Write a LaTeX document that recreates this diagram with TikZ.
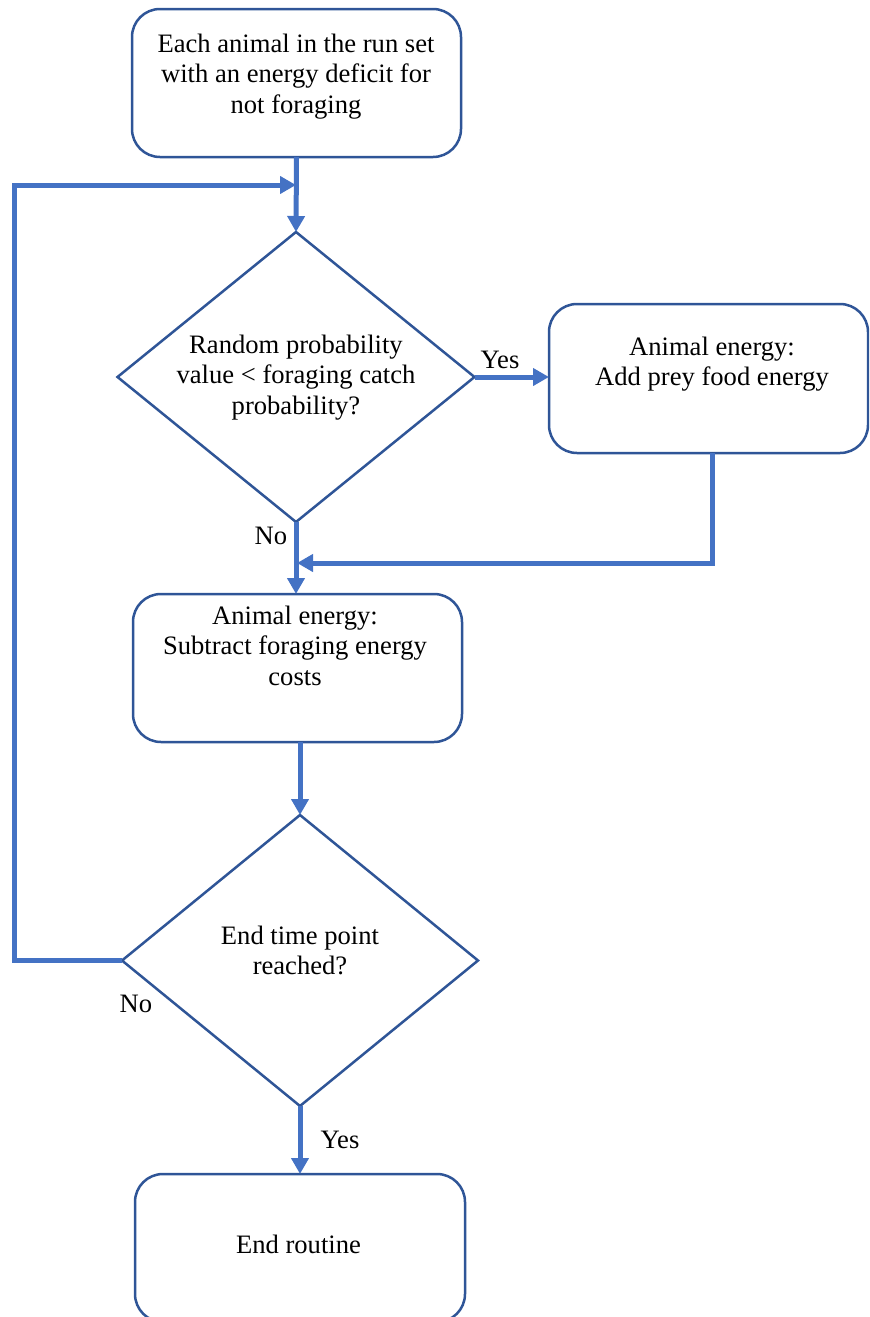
\documentclass[tikz,border=0pt]{standalone}
\usepackage{fontspec}
\setmainfont{Liberation Serif}
\usetikzlibrary{shapes.geometric,arrows.meta}
\definecolor{connblue}{HTML}{4472C4}
\definecolor{edgeblue}{HTML}{2F5597}
\begin{document}
\begin{tikzpicture}[x=0.5pt,y=-0.5pt,
  box/.style={draw=edgeblue,line width=1.25pt,rounded corners=14pt,fill=white,inner sep=0pt,outer sep=0pt},
  dec/.style={draw=edgeblue,line width=1.25pt,diamond,fill=white,inner sep=0pt,outer sep=0pt},
  txt/.style={anchor=base,inner sep=0pt,font=\fontsize{13.3pt}{15.3pt}\selectfont},
  conn/.style={draw=connblue,line width=2.5pt,-{Triangle[length=8pt,width=8.5pt]}}]
\useasboundingbox (0,0) rectangle (869,1317);
\clip (0,0) rectangle (869,1317);
% shapes
\node[box,minimum width=164.5pt,minimum height=74pt] (b1) at (296.5,83) {};
\node[dec,minimum width=178.5pt,minimum height=145pt] (d1) at (296,377) {};
\node[box,minimum width=159.5pt,minimum height=74.5pt] (b2) at (708.5,378.5) {};
\node[box,minimum width=164.5pt,minimum height=74pt] (b3) at (297.5,668) {};
\node[dec,minimum width=178pt,minimum height=145.5pt] (d2) at (300,960.5) {};
\node[box,minimum width=165pt,minimum height=74pt] (b4) at (300,1248) {};
% texts
\node[txt] (t1) at (296,52) {\begin{tabular}[t]{@{}c@{}}Each animal in the run set\\with an energy deficit for\\not foraging\end{tabular}};
\node[txt] (t2) at (296,353) {\begin{tabular}[t]{@{}c@{}}Random probability\\value < foraging catch\\probability?\end{tabular}};
\node[txt] (t3) at (712,355) {\begin{tabular}[t]{@{}c@{}}Animal energy:\\Add prey food energy\end{tabular}};
\node[txt] (t4) at (295,624) {\begin{tabular}[t]{@{}c@{}}Animal energy:\\Subtract foraging energy\\costs\end{tabular}};
\node[txt] (t5) at (300,944) {\begin{tabular}[t]{@{}c@{}}End time point\\reached?\end{tabular}};
\node[txt] (t6) at (298.5,1253) {End routine};
% labels
\node[txt] (yes1) at (500,368) {Yes};
\node[txt] (no1) at (271,544) {No};
\node[txt] (no2) at (136,1012) {No};
\node[txt] (yes2) at (340,1148) {Yes};
% junction coordinates
\coordinate (j1) at (296,185);
\coordinate (lp) at (14,185);
\coordinate (j2) at (297,563);
% connectors
\draw[conn] (b1.south) -- (d1.north);
\draw[conn] (d1.east) -- (d1.east -| b2.west);
\draw[conn] ([xshift=1.75pt]b2.south) |- (j2);
\draw[conn] (d1.south) -- (d1.south |- b3.north);
\draw[conn] (b3.south -| d2.north) -- (d2.north);
\draw[conn] (d2.south) -- (b4.north);
\draw[conn] (d2.west) -| (lp) -- (j1);
\end{tikzpicture}
\end{document}
